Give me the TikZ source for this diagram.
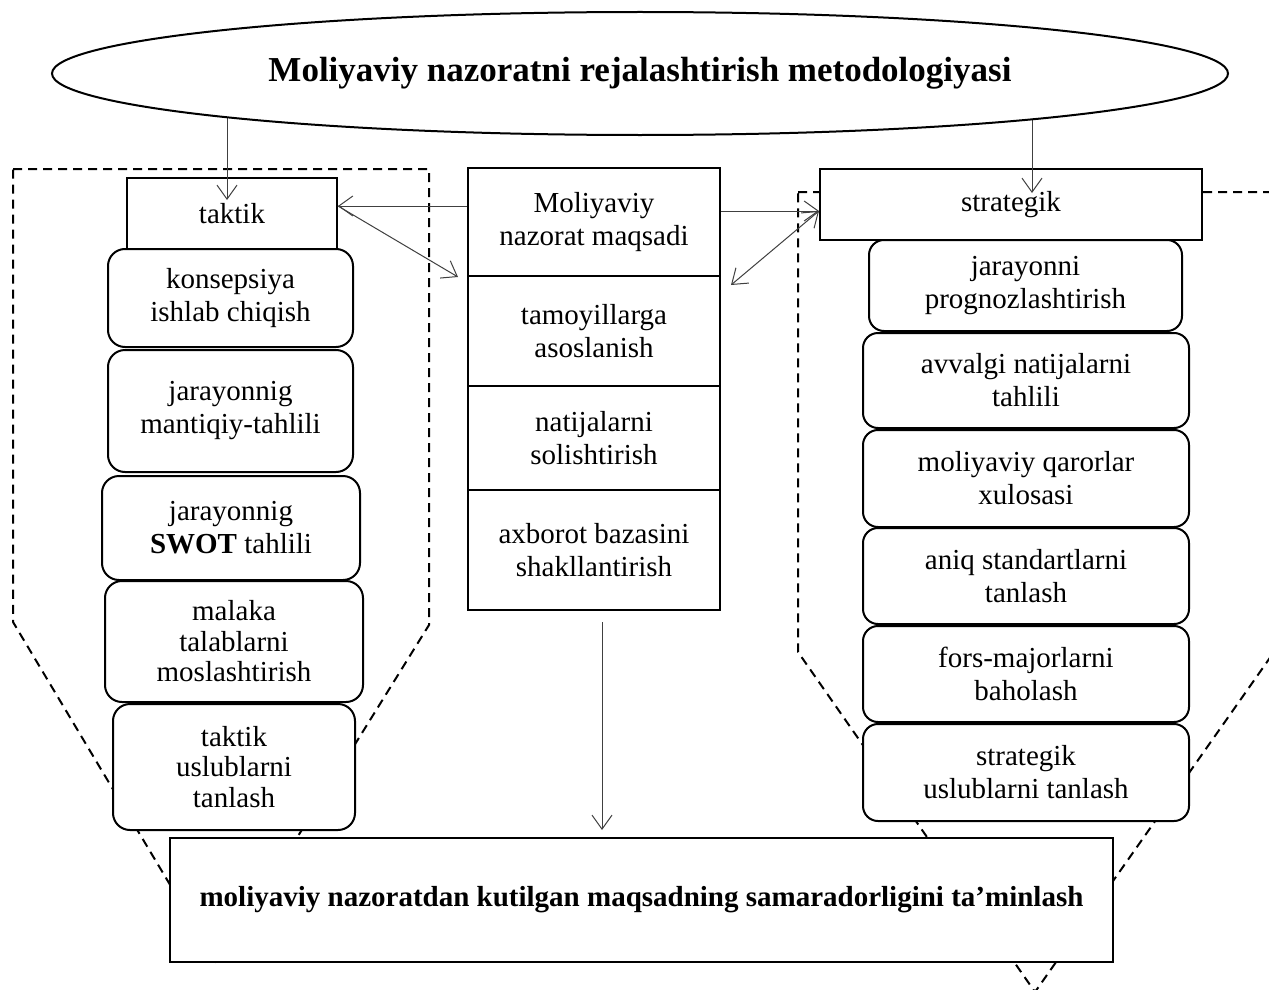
\documentclass[tikz,border=0pt]{standalone}
\usepackage{fontspec}
\setmainfont{Liberation Serif}
\usetikzlibrary{arrows.meta,shapes.geometric}
\begin{document}
\begin{tikzpicture}[x=1pt,y=-1pt,
  box/.style={draw, line width=2pt, fill=white, align=center, inner sep=0pt,
    font=\fontsize{29}{33}\selectfont},
  tbox/.style={box, font=\fontsize{29}{30.5}\selectfont},
  rbox/.style={box, rounded corners=17pt},
  rtbox/.style={tbox, rounded corners=17pt},
  dsh/.style={line width=2pt, dash pattern=on 9pt off 6pt},
  arr/.style={line width=1pt, draw=black!75, -{Straight Barb[length=14pt,width=20pt,line width=1pt]}},
  darr/.style={line width=1pt, draw=black!75, {Straight Barb[length=14pt,width=20pt,line width=1pt]}-{Straight Barb[length=14pt,width=20pt,line width=1pt]}}]
\useasboundingbox (0,0) rectangle (1269,990);
\clip (0,0) rectangle (1269,990);
\fill[white] (0,0) rectangle (1269,990);

% dashed outlines
\draw[dsh] (13,169) -- (429,169) -- (429,625) -- (218,965) -- (13,622) -- cycle;
\draw[dsh] (798,192) -- (1300,192) -- (1300,615) -- (1035,992) -- (798,652) -- cycle;

% left column
\node[rbox, minimum width=245pt, minimum height=98pt] (l1) at (230.5,298) {konsepsiya\\ishlab chiqish};
\node[rbox, minimum width=245pt, minimum height=122pt] (l2) at (230.5,411) {jarayonnig\\mantiqiy-tahlili};
\node[rbox, minimum width=258pt, minimum height=104pt] (l3) at (231,528) {jarayonnig\\\textbf{SWOT} tahlili};
\node[rtbox, minimum width=258pt, minimum height=121pt] (l4) at (234,641.5) {malaka\\talablarni\\moslashtirish};
\node[rtbox, minimum width=242pt, minimum height=126pt] (l5) at (234,767) {taktik\\uslublarni\\tanlash};
\node[box, minimum width=210pt, minimum height=71pt] (tk) at (232,213.5) {taktik};

% centre column
\node[box, minimum width=252pt, minimum height=108pt] (c1) at (594,222) {Moliyaviy\\nazorat maqsadi};
\node[box, minimum width=252pt, minimum height=110pt] (c2) at (594,331) {tamoyillarga\\asoslanish};
\node[box, minimum width=252pt, minimum height=104pt] (c3) at (594,438) {natijalarni\\solishtirish};
\node[box, minimum width=252pt, minimum height=120pt] (c4) at (594,550) {axborot bazasini\\shakllantirish};

% right column
\node[rbox, rounded corners=15pt, minimum width=313pt, minimum height=91pt] (r1) at (1025.5,285.5) {jarayonni\\prognozlashtirish};
\node[rbox, rounded corners=15pt, minimum width=326pt, minimum height=95pt] (r2) at (1026,380.5) {avvalgi natijalarni\\tahlili};
\node[rbox, rounded corners=15pt, minimum width=326pt, minimum height=97pt] (r3) at (1026,478.5) {moliyaviy qarorlar\\xulosasi};
\node[rbox, rounded corners=15pt, minimum width=326pt, minimum height=96pt] (r4) at (1026,576) {aniq standartlarni\\tanlash};
\node[rbox, rounded corners=15pt, minimum width=326pt, minimum height=96pt] (r5) at (1026,674) {fors-majorlarni\\baholash};
\node[rbox, rounded corners=15pt, minimum width=326pt, minimum height=97pt] (r6) at (1026,772.5) {strategik\\uslublarni tanlash};
\node[box, minimum width=382pt, minimum height=71pt] (st) at (1011,204.5) {strategik};

% bottom box
\node[box, minimum width=943pt, minimum height=124pt, font=\fontsize{29}{33}\selectfont\bfseries] (bt) at (641.5,900) {moliyaviy nazoratdan kutilgan maqsadning samaradorligini ta’minlash};

% arrows
\coordinate (ec) at (640,73.5);
\coordinate (t1) at (227,200);
\coordinate (t6) at (1032,193);
\coordinate (tkE) at ([yshift=7.5pt]tk.east);
\coordinate (stW) at ([yshift=-6.5pt]st.west);
\coordinate (a3) at (458,277);
\coordinate (a5) at (731,285);
\coordinate (a7s) at (602,622);
\coordinate (a7e) at (602,830);
\draw[arr] (t1 |- ec) -- (t1);
\draw[arr] (t6 |- ec) -- (t6);
\draw[arr] (c1.west |- tkE) -- (tkE);
\draw[arr] (tkE) -- (a3);
\draw[arr] (c1.east |- stW) -- (stW);
\draw[darr] (stW) -- (a5);
\draw[arr] (a7s) -- (a7e);

% title ellipse
\node[ellipse, draw, line width=2pt, fill=white, minimum width=1176pt, minimum height=123pt, inner sep=0pt,
  font=\fontsize{35}{40}\selectfont\bfseries] (ell) at (ec) {Moliyaviy nazoratni rejalashtirish metodologiyasi};
\end{tikzpicture}
\end{document}
